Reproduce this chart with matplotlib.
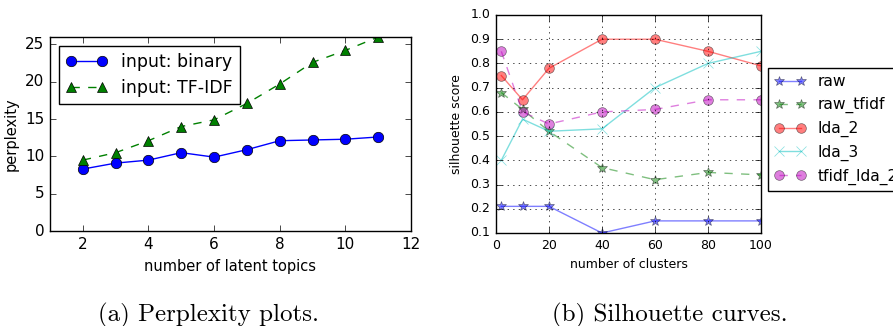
import numpy as np
import matplotlib
matplotlib.use("Agg")
from matplotlib import pyplot as plt

plt.style.use('classic')

# left: perplexity vs number of latent topics
topics = [2, 3, 4, 5, 6, 7, 8, 9, 10, 11]
perp_binary = [8.3, 9.1, 9.5, 10.5, 9.9, 10.9, 12.1, 12.2, 12.3, 12.6]
perp_tfidf = [9.5, 10.5, 12.1, 14.0, 14.9, 17.1, 19.7, 22.6, 24.2, 26.0]

# right: silhouette score vs number of clusters
clusters = [2, 10, 20, 40, 60, 80, 100]
sil_raw = [0.21, 0.21, 0.21, 0.10, 0.15, 0.15, 0.15]
sil_raw_tfidf = [0.68, 0.61, 0.52, 0.37, 0.32, 0.35, 0.34]
sil_lda_2 = [0.75, 0.65, 0.78, 0.90, 0.90, 0.85, 0.79]
sil_lda_3 = [0.40, 0.57, 0.52, 0.53, 0.70, 0.80, 0.85]
sil_tfidf_lda_2 = [0.85, 0.60, 0.55, 0.60, 0.61, 0.65, 0.65]

fig = plt.figure(figsize=(8.93, 3.26), dpi=100, facecolor='white')

# ---- (a) perplexity
ax1 = fig.add_axes([50/893, 1-231/326, 361/893, 194/326])
ax1.plot(topics, perp_binary, 'bo-', markersize=7.5, label='input: binary')
ax1.plot(topics, perp_tfidf, 'g^--', markersize=7.5, label='input: TF-IDF')
ax1.set_xlim(1, 12)
ax1.set_ylim(0, 26)
ax1.set_xticks([2, 4, 6, 8, 10, 12])
ax1.set_yticks([0, 5, 10, 15, 20, 25])
ax1.tick_params(labelsize=11)
ax1.set_xlabel('number of latent topics', fontsize=10.5)
ax1.set_ylabel('perplexity', fontsize=10.5)
ax1.legend(loc='upper left', fontsize=12.5, numpoints=2, handlelength=2.4,
           borderaxespad=0.5)

# ---- (b) silhouette
ax2 = fig.add_axes([496/893, 1-233/326, 265/893, 218/326])
ax2.plot(clusters, sil_raw, 'b*-', alpha=0.5, markersize=7, label='raw')
ax2.plot(clusters, sil_raw_tfidf, 'g*--', alpha=0.5, markersize=7, label='raw_tfidf')
ax2.plot(clusters, sil_lda_2, 'ro-', alpha=0.5, markersize=7, label='lda_2')
ax2.plot(clusters, sil_lda_3, 'cx-', alpha=0.5, markersize=7, label='lda_3')
ax2.plot(clusters, sil_tfidf_lda_2, 'mo--', alpha=0.5, markersize=7, label='tfidf_lda_2')
ax2.set_xlim(0, 100)
ax2.set_ylim(0.1, 1.0)
ax2.set_xticks([0, 20, 40, 60, 80, 100])
ax2.set_yticks(np.arange(0.1, 1.01, 0.1))
ax2.grid(True, color='black', linestyle=':')
ax2.tick_params(labelsize=9)
ax2.set_xlabel('number of clusters', fontsize=9)
ax2.set_ylabel('silhouette score', fontsize=9)
# the legend runs past the right edge of the figure, as in the original
ax2.legend(loc='upper left', bbox_to_anchor=(1.026, 0.757), fontsize=11.2,
           numpoints=2, borderaxespad=0)

# captions
fig.text(209/893, 1-315/326, '(a) Perplexity plots.', ha='center', va='center',
         fontsize=18, family='cmr10')
fig.text(670/893, 1-315/326, '(b) Silhouette curves.', ha='center', va='center',
         fontsize=18, family='cmr10')

fig.savefig('out.png', dpi=100, facecolor='white')
